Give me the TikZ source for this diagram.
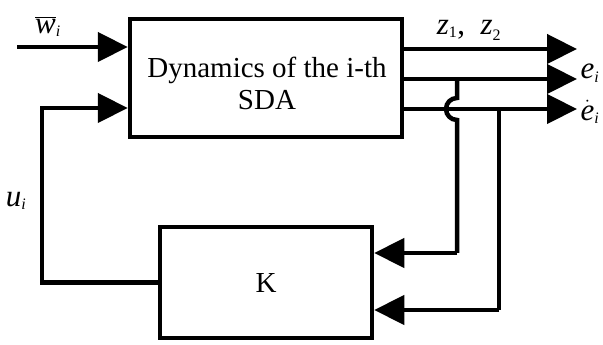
\documentclass[tikz,border=0pt]{standalone}
\usepackage{fontspec}
\setmainfont{Liberation Serif}
\usetikzlibrary{arrows.meta}
\begin{document}
\begin{tikzpicture}[x=1pt,y=1pt,
  wire/.style={line width=4.5pt},
  arr/.style={wire,-{Triangle[length=30pt,width=29pt]}},
  blk/.style={draw,line width=4.5pt,inner sep=0pt},
  lbl/.style={inner sep=0pt,font=\fontsize{29}{32}\selectfont},
  mlbl/.style={inner sep=0pt,font=\fontsize{31}{32}\selectfont}]
\newcommand{\sbs}[1]{\mbox{\fontsize{16}{16}\selectfont #1}}
\useasboundingbox (0,0) rectangle (603,345);
\node[blk,minimum width=272pt,minimum height=118pt] (sys) at (266,267) {};
\node[lbl,align=center] (syst) at (267,262) {Dynamics of the i-th\\SDA};
\node[blk,minimum width=212pt,minimum height=111pt] (K) at (266,62.5) {};
\node[lbl] (Kt) at (266,62) {K};
% inputs
\coordinate (ws) at (17,298);
\draw[arr] (ws) -- (ws -| sys.west);
\coordinate (uc) at (42,237);
\draw[arr] (K.west) -| (uc) -- (uc -| sys.west);
% outputs
\coordinate (zt) at (577,296);
\coordinate (et) at (577,266);
\coordinate (edt) at (577,236);
\draw[arr] (zt -| sys.east) -- (zt);
\draw[arr] (et -| sys.east) -- (et);
\draw[arr] (edt -| sys.east) -- (edt);
% feedback
\coordinate (f1) at (457,266);
\coordinate (f1a) at (457,247);
\coordinate (f1b) at (457,92);
\draw[wire] (f1) -- (f1a) arc[start angle=90,end angle=270,radius=11pt] -- (f1b);
\draw[arr] (f1b) -- (f1b -| K.east);
\coordinate (f2) at (499,236);
\coordinate (f2b) at (499,35);
\draw[wire] (f2) -- (f2b);
\draw[arr] (f2b) -- (f2b -| K.east);
% labels
\node[mlbl] (wl) at (48,318) {$\overline{\mbox{\itshape w}}_{\sbs{\itshape i}}$};
\node[mlbl] (ul) at (16,144) {$\mbox{\itshape u}_{\sbs{\itshape i}}$};
\node[mlbl] (zl) at (469,315) {$\mbox{\itshape z}_{\sbs{1}}\mbox{,\ \ \itshape z}_{\sbs{2}}$};
\node[mlbl] (el) at (590,272) {$\mbox{\itshape e}_{\sbs{\itshape i}}$};
\node[mlbl] (edl) at (590,233) {$\dot{\mbox{\itshape e}}_{\sbs{\itshape i}}$};
\end{tikzpicture}
\end{document}
